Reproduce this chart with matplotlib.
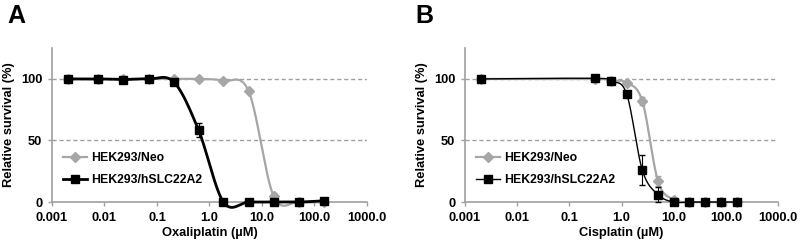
import numpy as np
import matplotlib.pyplot as plt
from matplotlib.lines import Line2D

plt.rcParams['font.family'] = ['Liberation Sans', 'DejaVu Sans']
plt.rcParams['font.weight'] = 'bold'

# Panel A: oxaliplatin (3-fold dilutions, control plotted at 0.002)
oxa_conc = [0.002, 0.0076, 0.023, 0.069, 0.21, 0.62, 1.85, 5.6, 16.7, 50, 150]
oxa_neo = [100, 100, 100, 100, 100, 100, 98.5, 90, 5, 0, 0]
oxa_neo_err = [0, 0, 0, 0, 0, 0.5, 1, 1.5, 2, 0, 0]
oxa_slc = [100, 100, 99.5, 100, 97.5, 58.5, 0, 0, 0, 0, 1]
oxa_slc_err = [0, 0, 0, 0, 1, 6, 0, 0, 0, 0, 0]

# Panel B: cisplatin (2-fold dilutions, control plotted at 0.002)
cis_conc = [0.002, 0.3125, 0.625, 1.25, 2.5, 5, 10, 20, 40, 80, 160]
cis_neo = [100, 100, 98.5, 97, 82, 17, 2, 0, 0, 0, 0]
cis_neo_err = [0, 0, 0.5, 0.5, 3, 4, 1, 0, 0, 0, 0]
cis_slc = [100, 100.5, 98, 88, 26, 6, 0, 0, 0, 0, 0]
cis_slc_err = [0, 0, 0, 0, 12, 6, 0, 0, 0, 0, 0]

GRAY = '#a6a6a6'
AXIS_GRAY = '#a0a0a0'


def smooth(x, y, n=40):
    """ Excel-like smoothed line (Catmull-Rom bezier in log-x space) """
    lx = np.log10(np.asarray(x, dtype=float))
    y = np.asarray(y, dtype=float)
    pts = np.column_stack([lx, y])
    out = []
    t = np.linspace(0, 1, n)[:, None]
    for i in range(len(pts) - 1):
        p0 = pts[max(i - 1, 0)]
        p1 = pts[i]
        p2 = pts[i + 1]
        p3 = pts[min(i + 2, len(pts) - 1)]
        c1 = p1 + (p2 - p0) / 6
        c2 = p2 - (p3 - p1) / 6
        seg = ((1 - t) ** 3) * p1 + 3 * ((1 - t) ** 2) * t * c1 + 3 * (1 - t) * t ** 2 * c2 + t ** 3 * p2
        out.append(seg)
    out = np.vstack(out)
    return 10 ** out[:, 0], out[:, 1]


def draw_panel(ax, conc, neo, neo_err, slc, slc_err, xlabel, slc_lw, neo_lw):
    ax.set_xscale('log')
    ax.set_xlim(0.001, 1000)
    ax.set_ylim(0, 125)

    for yv in (50, 100):
        ax.axhline(yv, color=AXIS_GRAY, ls=(0, (3, 2)), lw=1, zorder=1)

    sx, sy = smooth(conc, neo)
    ax.plot(sx, sy, color=GRAY, lw=neo_lw, zorder=2, clip_on=False)
    ax.errorbar(conc, neo, yerr=neo_err, fmt='D', color=GRAY, ms=5,
                ecolor=GRAY, elinewidth=0.8, capsize=2.5, zorder=3, clip_on=False)

    sx, sy = smooth(conc, slc)
    ax.plot(sx, sy, color='black', lw=slc_lw, zorder=4, clip_on=False)
    ax.errorbar(conc, slc, yerr=slc_err, fmt='s', color='black', ms=6,
                ecolor='black', elinewidth=0.8, capsize=2.5, zorder=5, clip_on=False)

    ax.set_xticks([0.001, 0.01, 0.1, 1, 10, 100, 1000])
    ax.set_xticklabels(['0.001', '0.01', '0.1', '1.0', '10.0', '100.0', '1000.0'])
    ax.minorticks_off()
    ax.set_yticks([0, 50, 100])
    ax.tick_params(axis='both', labelsize=9.3, color=AXIS_GRAY, length=3, width=1, pad=4)
    for lab in ax.get_xticklabels() + ax.get_yticklabels():
        lab.set_fontweight('bold')

    for side in ('top', 'right'):
        ax.spines[side].set_visible(False)
    for side in ('left', 'bottom'):
        ax.spines[side].set_color(AXIS_GRAY)
        ax.spines[side].set_linewidth(1.2)

    ax.set_xlabel(xlabel, fontsize=9.3, fontweight='bold', labelpad=2)
    ax.set_ylabel('Relative survival (%)', fontsize=9.3, fontweight='bold', labelpad=4)

    handles = [
        Line2D([], [], color=GRAY, lw=neo_lw, marker='D', ms=5),
        Line2D([], [], color='black', lw=slc_lw, marker='s', ms=6),
    ]
    ax.legend(handles, ['HEK293/Neo', 'HEK293/hSLC22A2'], loc='lower left',
              bbox_to_anchor=(0.0, 0.03), frameon=False, handlelength=2.0,
              handletextpad=0.3, labelspacing=0.85, prop={'size': 8.8, 'weight': 'bold'})


fig = plt.figure(figsize=(8.03, 2.47), dpi=100)
ax_a = fig.add_axes([0.0648, 0.182, 0.392, 0.623])
ax_b = fig.add_axes([0.579, 0.182, 0.390, 0.623])

draw_panel(ax_a, oxa_conc, oxa_neo, oxa_neo_err, oxa_slc, oxa_slc_err,
           'Oxaliplatin (\u00b5M)', 2.0, 1.6)
draw_panel(ax_b, cis_conc, cis_neo, cis_neo_err, cis_slc, cis_slc_err,
           'Cisplatin (\u00b5M)', 1.0, 1.6)

fig.text(0.009, 0.985, 'A', fontsize=18, fontweight='bold', va='top')
fig.text(0.517, 0.985, 'B', fontsize=18, fontweight='bold', va='top')

fig.savefig('out.png', dpi=100)
